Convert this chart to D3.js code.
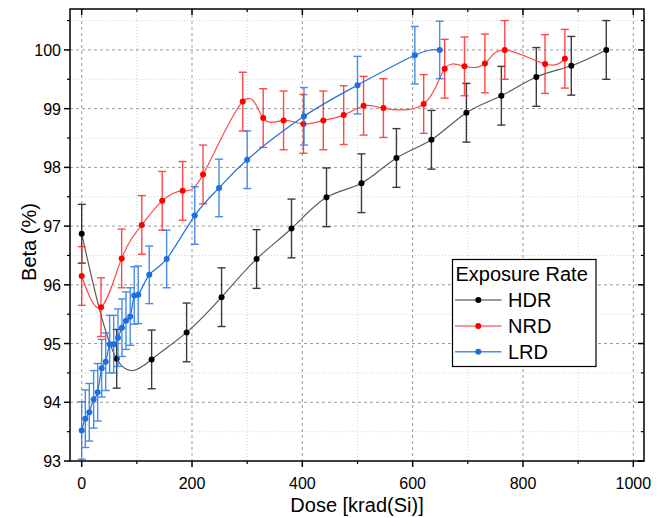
<!DOCTYPE html>
<html><head><meta charset="utf-8">
<script src="https://cdn.jsdelivr.net/npm/d3@7"></script>
<style>body{margin:0;background:#fff}svg{display:block}text{font-family:Arial,"Liberation Sans",sans-serif}</style>
</head><body><svg id="c" width="669" height="518"></svg>
<script>
const hdrX = [0, 63.4, 126.8, 190.2, 253.6, 317, 380.4, 443.8, 507.2, 570.6, 634, 697.4, 760.8, 824.2, 887.6, 951];
const hdrY = [96.87, 94.74, 94.73, 95.19, 95.79, 96.44, 96.96, 97.49, 97.73, 98.16, 98.47, 98.93, 99.22, 99.54, 99.73, 100.0];
const hdrErr = [0.5, 0.5, 0.5, 0.5, 0.5, 0.5, 0.5, 0.5, 0.5, 0.5, 0.5, 0.5, 0.5, 0.5, 0.5, 0.5];

const nrdX = [0, 35, 72.5, 109, 146, 183, 220, 292, 329, 366, 402, 438, 475, 511, 547, 620, 658, 694, 731, 767, 840, 876];
const nrdY = [96.15, 95.62, 96.45, 97.02, 97.43, 97.60, 97.88, 99.12, 98.84, 98.80, 98.74, 98.80, 98.89, 99.05, 99.01, 99.08, 99.68, 99.72, 99.77, 100.0, 99.76, 99.85];
const nrdErr = [0.5, 0.5, 0.5, 0.5, 0.5, 0.5, 0.5, 0.5, 0.5, 0.5, 0.5, 0.5, 0.5, 0.5, 0.5, 0.5, 0.5, 0.5, 0.5, 0.5, 0.5, 0.5];

const lrdX = [0, 6.6, 13.8, 21.7, 29, 36.2, 43.5, 50.7, 58, 65.8, 73, 80.3, 88, 95.3, 102.5, 122.5, 154, 205, 249, 300, 403, 500, 604, 649];
const lrdY = [93.52, 93.72, 93.83, 94.05, 94.17, 94.58, 94.69, 94.99, 94.99, 95.10, 95.27, 95.39, 95.46, 95.82, 95.83, 96.17, 96.44, 97.18, 97.65, 98.13, 98.87, 99.40, 99.91, 100.0];
const lrdErr = [0.49, 0.49, 0.49, 0.49, 0.49, 0.49, 0.49, 0.49, 0.49, 0.49, 0.49, 0.49, 0.49, 0.49, 0.49, 0.49, 0.49, 0.49, 0.49, 0.49, 0.49, 0.49, 0.49, 0.49];

const seriesNames = ["HDR", "NRD", "LRD"];
const xTicks = [0, 200, 400, 600, 800, 1000];
const yTicks = [93, 94, 95, 96, 97, 98, 99, 100];
const xMinor = [100, 300, 500, 700, 900];
const yMinor = [93.5, 94.5, 95.5, 96.5, 97.5, 98.5, 99.5, 100.5];
const xTitle = "Dose [krad(Si)]";
const yTitle = "Beta (%)";
const legendTitle = "Exposure Rate";

const L = 70, R = 644, T = 9, B = 461;
const svg = d3.select("#c");
const x = d3.scaleLinear().domain([-21.2, 1019.4]).range([L, R]);
const y = d3.scaleLinear().domain([93, 100.697]).range([B, T]);

// grid
const g = svg.append("g");
g.selectAll(".gxm").data(xMinor).join("line").attr("x1", d => x(d)).attr("x2", d => x(d)).attr("y1", T).attr("y2", B)
  .attr("stroke", "#d4d4d4").attr("stroke-width", 1).attr("stroke-dasharray", "1,2");
g.selectAll(".gym").data(yMinor).join("line").attr("y1", d => y(d)).attr("y2", d => y(d)).attr("x1", L).attr("x2", R)
  .attr("stroke", "#d4d4d4").attr("stroke-width", 1).attr("stroke-dasharray", "1,2");
g.selectAll(".gx").data(xTicks).join("line").attr("x1", d => x(d)).attr("x2", d => x(d)).attr("y1", T).attr("y2", B)
  .attr("stroke", "#9a9a9a").attr("stroke-width", 1).attr("stroke-dasharray", "3,3");
g.selectAll(".gy").data(yTicks.slice(1)).join("line").attr("y1", d => y(d)).attr("y2", d => y(d)).attr("x1", L).attr("x2", R)
  .attr("stroke", "#9a9a9a").attr("stroke-width", 1).attr("stroke-dasharray", "3,3");

// series
const series = [
  {name: "HDR", xs: hdrX, ys: hdrY, es: hdrErr, line: "#5a5a5a", bar: "#1a1a1a", dot: "#000000"},
  {name: "NRD", xs: nrdX, ys: nrdY, es: nrdErr, line: "#ff4a4a", bar: "#ff2a2a", dot: "#ff0000"},
  {name: "LRD", xs: lrdX, ys: lrdY, es: lrdErr, line: "#1f70e0", bar: "#2a78e6", dot: "#1f6fe0"}
];
const lineGen = d3.line().x(d => x(d[0])).y(d => y(d[1])).curve(d3.curveNatural);
series.forEach(s => {
  const pts = s.xs.map((v, i) => [v, s.ys[i], s.es[i]]);
  const sg = svg.append("g");
  sg.append("path").datum(pts).attr("d", lineGen).attr("fill", "none").attr("stroke", s.line).attr("stroke-width", 1.2);
  const eb = sg.append("g").attr("stroke", s.bar).attr("stroke-width", 1.4).attr("opacity", 0.85);
  eb.selectAll(".v").data(pts).join("line").attr("x1", d => x(d[0])).attr("x2", d => x(d[0]))
    .attr("y1", d => y(d[1] - d[2])).attr("y2", d => y(d[1] + d[2]));
  eb.selectAll(".t").data(pts).join("line").attr("x1", d => x(d[0]) - 4).attr("x2", d => x(d[0]) + 4)
    .attr("y1", d => y(d[1] + d[2])).attr("y2", d => y(d[1] + d[2]));
  eb.selectAll(".b").data(pts).join("line").attr("x1", d => x(d[0]) - 4).attr("x2", d => x(d[0]) + 4)
    .attr("y1", d => y(d[1] - d[2])).attr("y2", d => y(d[1] - d[2]));
  sg.selectAll("circle").data(pts).join("circle").attr("cx", d => x(d[0])).attr("cy", d => y(d[1])).attr("r", 3).attr("fill", s.dot);
});

// axes
const ax = svg.append("g").attr("stroke", "#000");
ax.append("rect").attr("x", L).attr("y", T).attr("width", R - L).attr("height", B - T).attr("fill", "none").attr("stroke-width", 1.5);
// bottom
ax.selectAll(".bx").data(xTicks).join("line").attr("x1", d => x(d)).attr("x2", d => x(d)).attr("y1", B).attr("y2", B + 6).attr("stroke-width", 1.5);
ax.selectAll(".bxm").data(xMinor).join("line").attr("x1", d => x(d)).attr("x2", d => x(d)).attr("y1", B).attr("y2", B + 3).attr("stroke-width", 1.2);
// top (inward)
ax.selectAll(".tx").data(xTicks).join("line").attr("x1", d => x(d)).attr("x2", d => x(d)).attr("y1", T).attr("y2", T + 6).attr("stroke-width", 1.5);
ax.selectAll(".txm").data(xMinor).join("line").attr("x1", d => x(d)).attr("x2", d => x(d)).attr("y1", T).attr("y2", T + 3).attr("stroke-width", 1.2);
// left
ax.selectAll(".ly").data(yTicks).join("line").attr("y1", d => y(d)).attr("y2", d => y(d)).attr("x1", L - 6).attr("x2", L).attr("stroke-width", 1.5);
ax.selectAll(".lym").data(yMinor).join("line").attr("y1", d => y(d)).attr("y2", d => y(d)).attr("x1", L - 3).attr("x2", L).attr("stroke-width", 1.2);
// right (inward)
ax.selectAll(".ry").data(yTicks).join("line").attr("y1", d => y(d)).attr("y2", d => y(d)).attr("x1", R - 6).attr("x2", R).attr("stroke-width", 1.5);
ax.selectAll(".rym").data(yMinor).join("line").attr("y1", d => y(d)).attr("y2", d => y(d)).attr("x1", R - 3).attr("x2", R).attr("stroke-width", 1.2);

// tick labels
svg.selectAll(".xl").data(xTicks).join("text").attr("x", d => x(d)).attr("y", B + 28).attr("text-anchor", "middle")
  .attr("font-size", 16).attr("fill", "#000").text(d => d);
svg.selectAll(".yl").data(yTicks).join("text").attr("x", L - 9).attr("y", d => y(d) + 6).attr("text-anchor", "end")
  .attr("font-size", 16).attr("fill", "#000").text(d => d);

// titles
svg.append("text").attr("x", (L + R) / 2).attr("y", 512).attr("text-anchor", "middle").attr("font-size", 20).text(xTitle);
svg.append("text").attr("transform", `translate(36,${(T + B) / 2 + 7}) rotate(-90)`).attr("text-anchor", "middle").attr("font-size", 20).text(yTitle);

// legend
const lg = svg.append("g");
lg.append("rect").attr("x", 452.5).attr("y", 259.5).attr("width", 143.5).attr("height", 107).attr("fill", "#fff").attr("stroke", "#000").attr("stroke-width", 1.2);
lg.append("text").attr("x", 455.5).attr("y", 281).attr("font-size", 20).text(legendTitle);
series.forEach((s, i) => {
  const cy = 300 + i * 25.9;
  lg.append("line").attr("x1", 455).attr("x2", 501.5).attr("y1", cy).attr("y2", cy).attr("stroke", s.line).attr("stroke-width", 1.5).attr("opacity", 0.8);
  lg.append("circle").attr("cx", 478.3).attr("cy", cy).attr("r", 3).attr("fill", s.dot);
  lg.append("text").attr("x", 508).attr("y", cy + 7).attr("font-size", 20).text(seriesNames[i]);
});
</script></body></html>
